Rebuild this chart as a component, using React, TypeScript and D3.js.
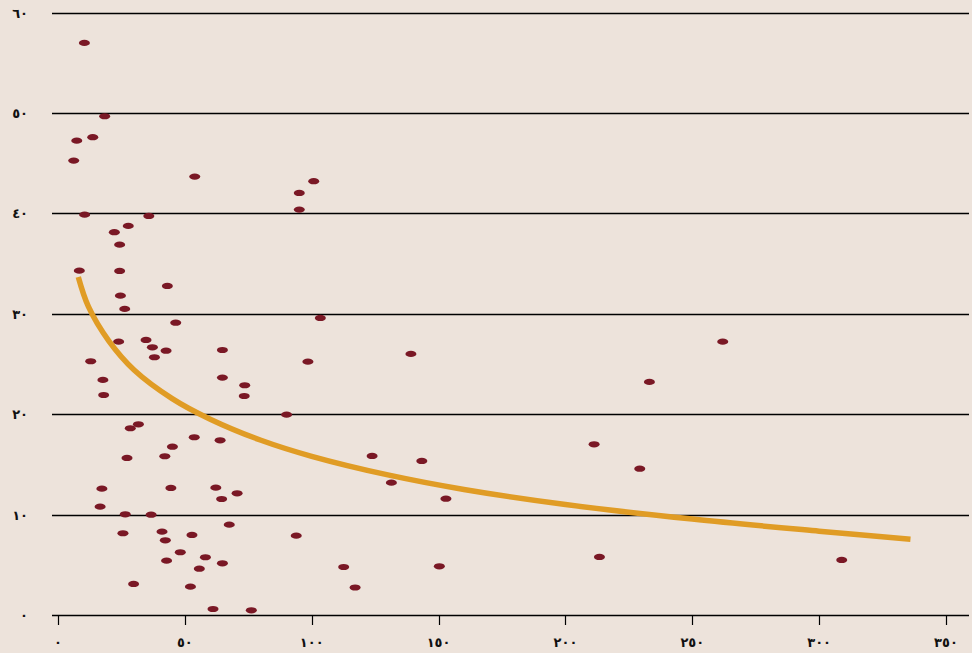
import React from "react";
import * as d3 from "d3";

const W = 972;
const H = 653;

// scatter data (x, y)
const pointsX = [
  10.4, 18.4, 7.4, 13.7, 6.2, 53.9, 100.8, 95.1, 95.1, 10.5,
  35.8, 27.7, 22.2, 24.3, 8.4, 24.3, 43.1, 24.6, 26.3, 103.4,
  46.4, 23.9, 34.7, 37.2, 42.6, 64.8, 38.0, 139.1, 262.0, 12.9,
  98.5, 17.7, 64.8, 233.1, 73.6, 18.0, 73.4, 90.1, 31.7, 28.5,
  53.7, 63.9, 45.1, 211.3, 42.1, 27.2, 123.8, 143.4, 229.3, 131.4,
  17.3, 44.5, 62.2, 70.6, 64.5, 152.9, 16.6, 26.5, 36.7, 67.5,
  41.0, 25.6, 52.8, 93.9, 42.3, 48.2, 213.4, 58.1, 42.8, 64.8,
  55.7, 112.6, 150.3, 308.9, 29.8, 52.2, 117.1, 61.1, 76.2,
];
const pointsY = [
  56.97, 49.67, 47.24, 47.58, 45.25, 43.66, 43.2, 42.03, 40.37, 39.87,
  39.74, 38.75, 38.12, 36.88, 34.29, 34.26, 32.77, 31.8, 30.48, 29.58,
  29.11, 27.22, 27.39, 26.66, 26.32, 26.39, 25.67, 26.0, 27.22, 25.27,
  25.23, 23.41, 23.64, 23.21, 22.88, 21.91, 21.81, 19.95, 18.99, 18.6,
  17.7, 17.4, 16.76, 17.0, 15.81, 15.64, 15.84, 15.34, 14.57, 13.18,
  12.58, 12.65, 12.68, 12.12, 11.55, 11.58, 10.79, 10.03, 9.99, 9.0,
  8.3, 8.14, 7.97, 7.9, 7.44, 6.25, 5.78, 5.75, 5.41, 5.15,
  4.61, 4.78, 4.85, 5.48, 3.09, 2.82, 2.74, 0.6, 0.47,
];

// trend line
const trendX = [8, 12, 20, 30, 45, 60, 80, 100, 130, 160, 200, 250, 300, 336];
const trendY = [33.66, 30.7, 27.3, 24.4, 21.55, 19.5, 17.4, 15.8, 13.95, 12.5, 11.0, 9.55, 8.35, 7.55];

const xTicks = [0, 50, 100, 150, 200, 250, 300, 350];
const xTickLabels = ["٠", "٥٠", "١٠٠", "١٥٠", "٢٠٠", "٢٥٠", "٣٠٠", "٣٥٠"];
const yTicks = [0, 10, 20, 30, 40, 50, 60];
const yTickLabels = ["٠", "١٠", "٢٠", "٣٠", "٤٠", "٥٠", "٦٠"];

const BG = "#EDE3DB";
const DOT = "#7A1825";
const TREND = "#E09C25";
const FONT = "'DejaVu Sans', sans-serif";

export default function App() {
  const x = d3.scaleLinear().domain([0, 350]).range([58, 946]);
  const y = d3.scaleLinear().domain([0, 60]).range([615, 12.5]);
  const gridLeft = 52;
  const gridRight = 969;

  const trendData = trendX.map((v, i) => [v, trendY[i]] as [number, number]);
  const line = d3
    .line<[number, number]>()
    .x((d) => x(d[0]))
    .y((d) => y(d[1]))
    .curve(d3.curveCatmullRom.alpha(0.5));

  return (
    <svg
      width={W}
      height={H}
      style={{ position: "absolute", left: 0, top: 0, display: "block" }}
    >
      <rect x={0} y={0} width={W} height={H} fill={BG} />
      {/* grid lines */}
      {yTicks.map((t) => (
        <line
          key={"g" + t}
          x1={gridLeft}
          x2={gridRight}
          y1={Math.round(y(t)) + 0.5}
          y2={Math.round(y(t)) + 0.5}
          stroke="#000"
          strokeWidth={1.3}
        />
      ))}
      {/* y labels */}
      {yTicks.map((t, i) => (
        <text
          key={"yl" + t}
          x={28}
          y={y(t) + 5}
          textAnchor="end"
          fontFamily={FONT}
          fontWeight="bold"
          fontSize={13}
          fill="#111"
        >
          {yTickLabels[i]}
        </text>
      ))}
      {/* x ticks */}
      {xTicks.map((t, i) => (
        <g key={"xt" + t}>
          <line
            x1={Math.round(x(t)) + 0.5}
            x2={Math.round(x(t)) + 0.5}
            y1={615}
            y2={625}
            stroke="#000"
            strokeWidth={1.2}
          />
          <text
            x={x(t)}
            y={647}
            textAnchor="middle"
            fontFamily={FONT}
            fontWeight="bold"
            fontSize={13}
            fill="#111"
          >
            {xTickLabels[i]}
          </text>
        </g>
      ))}
      {/* points */}
      {pointsX.map((px, i) => (
        <ellipse
          key={"p" + i}
          cx={x(px)}
          cy={y(pointsY[i])}
          rx={5.5}
          ry={3.1}
          fill={DOT}
        />
      ))}
      {/* trend */}
      <path
        d={line(trendData) || ""}
        fill="none"
        stroke={TREND}
        strokeWidth={5.5}
        strokeLinecap="butt"
      />
    </svg>
  );
}
